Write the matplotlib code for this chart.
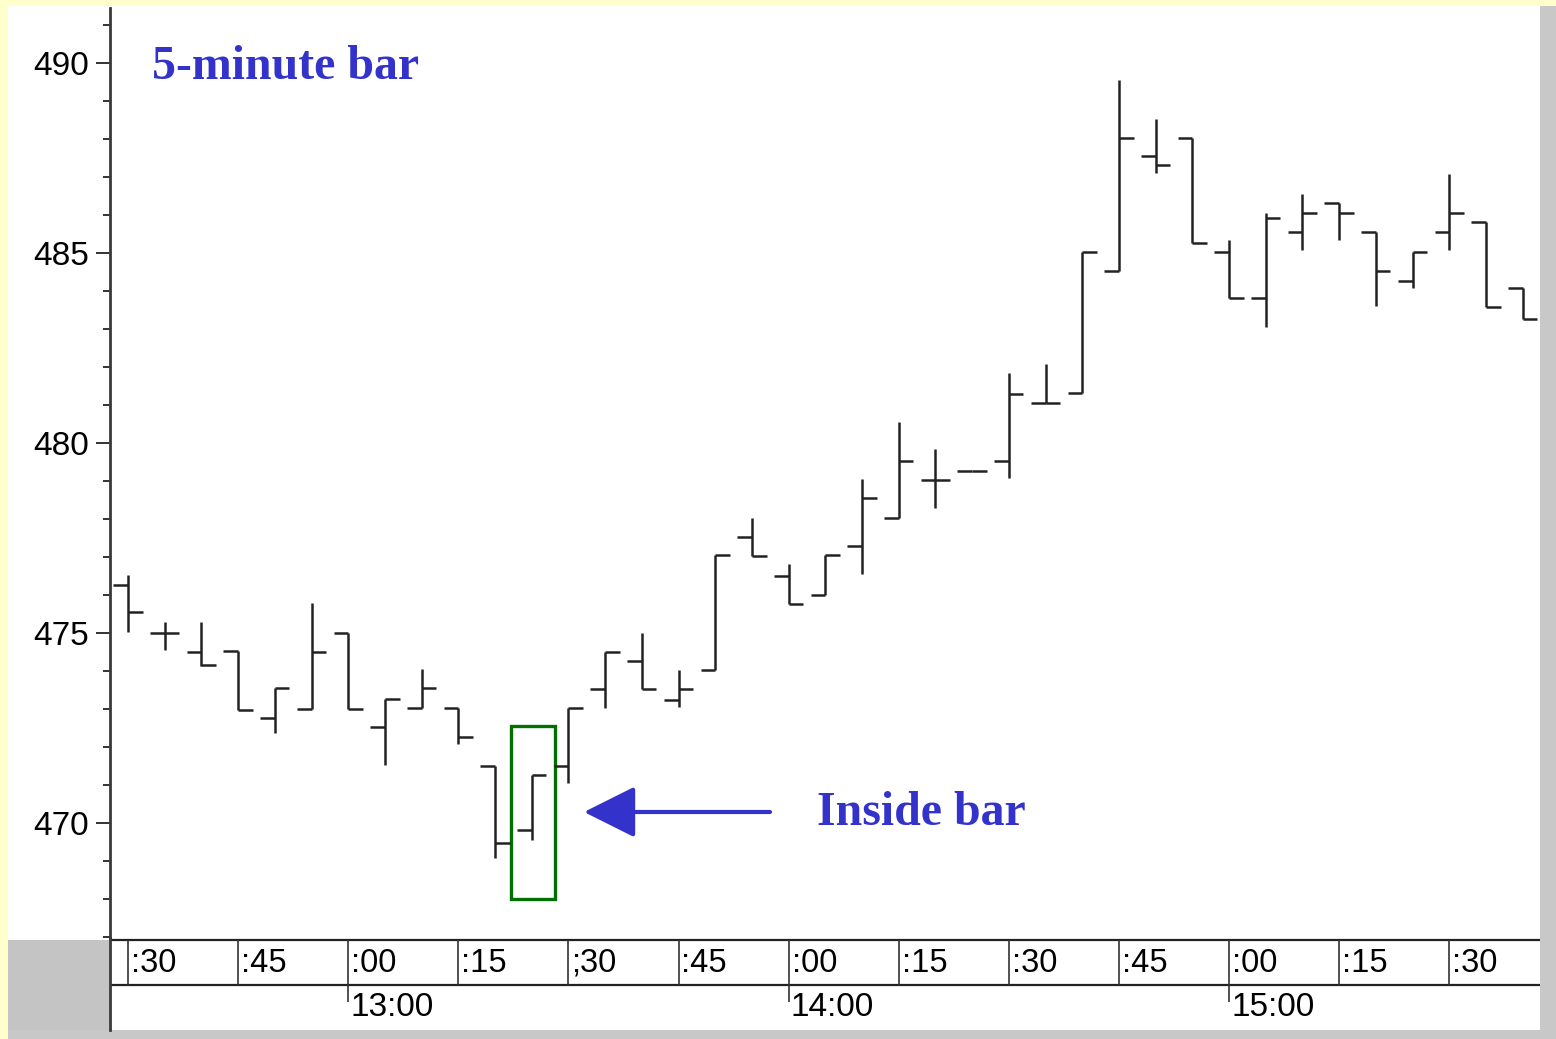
import matplotlib
matplotlib.use('Agg')
import matplotlib.pyplot as plt
from matplotlib.patches import Rectangle, FancyArrowPatch
from matplotlib.ticker import MultipleLocator, FixedLocator

# ---------------- data ----------------
start_minute = 30          # first bar at 12:30 (minutes after 12:00)
bar_minutes = 5
opens = [476.26, 475.00, 474.50, 474.53, 472.76, 473.00, 475.00, 472.53, 473.03, 473.03,
         471.50, 469.82, 471.50, 473.53, 474.26, 473.24, 474.03, 477.53, 476.50, 476.00,
         477.29, 478.03, 479.03, 479.26, 479.53, 481.05, 481.32, 484.53, 487.55, 488.03,
         485.03, 483.82, 485.55, 486.32, 485.55, 484.26, 485.55, 485.82, 484.08]
highs = [476.53, 475.29, 475.29, 474.53, 473.55, 475.79, 475.00, 473.26, 474.05, 473.03,
         471.50, 471.26, 473.03, 474.50, 475.00, 474.03, 477.05, 478.03, 476.82, 477.05,
         479.05, 480.55, 479.84, 479.26, 481.84, 482.08, 485.03, 489.55, 488.53, 488.03,
         485.34, 486.05, 486.55, 486.32, 485.55, 485.03, 487.08, 485.82, 484.08]
lows = [475.03, 474.55, 474.13, 472.97, 472.37, 473.00, 473.00, 471.53, 473.03, 472.08,
        469.08, 469.55, 471.05, 473.03, 473.53, 473.05, 474.03, 477.03, 475.76, 476.00,
        476.55, 478.03, 478.29, 479.26, 479.08, 481.05, 481.32, 484.53, 487.11, 485.26,
        483.82, 483.05, 485.08, 485.34, 483.61, 484.08, 485.08, 483.58, 483.26]
closes = [475.55, 475.00, 474.16, 472.97, 473.55, 474.50, 473.00, 473.26, 473.55, 472.26,
          469.47, 471.26, 473.03, 474.50, 473.53, 473.53, 477.05, 477.03, 475.76, 477.05,
          478.55, 479.53, 479.03, 479.26, 481.29, 481.05, 485.03, 488.03, 487.32, 485.26,
          483.82, 485.92, 486.05, 486.05, 484.53, 485.03, 486.05, 483.58, 483.26]

price_ticks = [470, 475, 480, 485, 490]
quarter_ticks = [30, 45, 60, 75, 90, 105, 120, 135, 150, 165, 180, 195, 210]
quarter_labels = [':30', ':45', ':00', ':15', ';30', ':45', ':00', ':15', ':30', ':45',
                  ':00', ':15', ':30']
hour_ticks = [60, 120, 180]
hour_labels = ['13:00', '14:00', '15:00']
title_text = '5-minute bar'
note_text = 'Inside bar'

# ---------------- figure ----------------
W, H = 1556, 1039
fig = plt.figure(figsize=(W / 100, H / 100), dpi=100, facecolor='#FFFFCC')


def frect(x0, y0, x1, y1, color, z=0):
    fig.add_artist(Rectangle((x0 / W, 1 - y1 / H), (x1 - x0) / W, (y1 - y0) / H,
                             transform=fig.transFigure, facecolor=color,
                             edgecolor='none', zorder=z))


frect(8, 6, 1540, 1030, 'white')
frect(1540, 6, W, H, '#C8C8C8')
frect(8, 1030, W, H, '#C8C8C8')
frect(8, 940, 110, 1030, '#C4C4C4')

# pixel geometry of the price panel
ax_left, ax_right, ax_top, ax_bot = 110, 1540, 8, 938
ax = fig.add_axes([ax_left / W, 1 - ax_bot / H, (ax_right - ax_left) / W, (ax_bot - ax_top) / H])
ax.set_facecolor('white')
ax.patch.set_alpha(0)

px_per_min = 36.7 / 5
first_px = 128
ax.set_xlim(start_minute - (first_px - ax_left) / px_per_min,
            start_minute + (ax_right - first_px) / px_per_min)
px_per_unit = 38.0
ax.set_ylim(490 - (ax_bot - 63) / px_per_unit, 490 + (63 - ax_top) / px_per_unit)

xs = [start_minute + bar_minutes * i for i in range(len(opens))]
tick_w = 2.0
bar_col = '#222222'
ax.vlines(xs, lows, highs, color=bar_col, lw=1.8)
ax.hlines(opens, [x - tick_w for x in xs], xs, color=bar_col, lw=1.8)
ax.hlines(closes, xs, [x + tick_w for x in xs], color=bar_col, lw=1.8)

for s in ['top', 'right', 'bottom']:
    ax.spines[s].set_visible(False)
ax.spines['left'].set_color('#3a3a3a')
ax.spines['left'].set_linewidth(2)
ax.set_xticks([])
ax.yaxis.set_major_locator(FixedLocator(price_ticks))
ax.yaxis.set_minor_locator(MultipleLocator(1))
ax.set_yticklabels([str(p) for p in price_ticks], fontfamily='Liberation Sans', fontsize=24)
ax.tick_params(axis='y', which='major', length=10, width=1.4, pad=5, color='#333333')
ax.tick_params(axis='y', which='minor', length=5, width=1.4, color='#333333')

# annotations
blue = '#3333CC'
ax.text(start_minute + (152 - first_px) / px_per_min, 490 - (79 - 63) / px_per_unit, title_text,
        fontfamily='Liberation Serif', fontweight='bold', fontsize=34.5, color=blue,
        ha='left', va='baseline')
ax.text(start_minute + (817 - first_px) / px_per_min, 490 - (825 - 63) / px_per_unit, note_text,
        fontfamily='Liberation Serif', fontweight='bold', fontsize=34.5, color=blue,
        ha='left', va='baseline')
y_arrow = 490 - (812 - 63) / px_per_unit
arr = FancyArrowPatch((start_minute + (770 - first_px) / px_per_min, y_arrow),
                      (start_minute + (584 - first_px) / px_per_min, y_arrow),
                      arrowstyle='-|>,head_length=1.6,head_width=0.8', mutation_scale=20,
                      color=blue, lw=3, shrinkA=0, shrinkB=0)
ax.add_patch(arr)
rx0 = start_minute + (511 - first_px) / px_per_min
rx1 = start_minute + (555 - first_px) / px_per_min
ry0 = 490 - (899 - 63) / px_per_unit
ry1 = 490 - (726 - 63) / px_per_unit
ax.add_patch(Rectangle((rx0, ry0), rx1 - rx0, ry1 - ry0, fill=False,
                       edgecolor='#007000', lw=2.4))

# ---------------- time band ----------------
band_top, band_bot = 938, 1030
bx = fig.add_axes([ax_left / W, 1 - band_bot / H, (ax_right - ax_left) / W, (band_bot - band_top) / H])
bx.set_xlim(ax.get_xlim())
bx.set_ylim(band_bot, band_top)   # pixel-like y, inverted
bx.patch.set_alpha(0)
for s in ['top', 'right', 'bottom']:
    bx.spines[s].set_visible(False)
bx.spines['left'].set_color('#3a3a3a')
bx.spines['left'].set_linewidth(2)
bx.set_xticks([])
bx.set_yticks([])
bx.hlines([940, 985], bx.get_xlim()[0], bx.get_xlim()[1], color='#222222', lw=1.6)
bx.vlines(quarter_ticks, 940, 985, color='#333333', lw=1.2)
bx.vlines(hour_ticks, 985, 1002, color='#333333', lw=1.2)
for t, lab in zip(quarter_ticks, quarter_labels):
    bx.text(t + 3 / px_per_min, 963, lab, fontfamily='Liberation Sans', fontsize=23.5,
            ha='left', va='center', color='black')
for t, lab in zip(hour_ticks, hour_labels):
    bx.text(t + 2 / px_per_min, 1008, lab, fontfamily='Liberation Sans', fontsize=24,
            ha='left', va='center', color='black')

fig.savefig('out.png', dpi=100, facecolor=fig.get_facecolor())
